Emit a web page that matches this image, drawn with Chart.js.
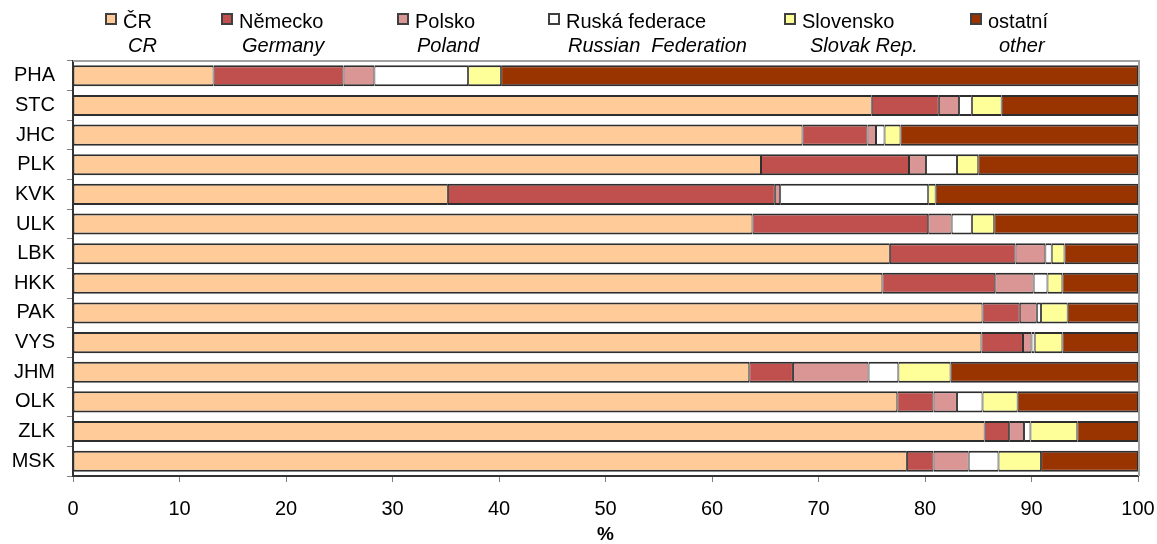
<!DOCTYPE html>
<html>
<head>
<meta charset="utf-8">
<script src="https://cdn.jsdelivr.net/npm/chart.js@4.4.1/dist/chart.umd.min.js"></script>
<style>
    html, body { margin: 0; padding: 0; background: #ffffff; }
    #wrap { position: relative; width: 1157px; height: 544px; }
</style>
</head>
<body>
<div id="wrap"><canvas id="regionChart" width="1157" height="544"></canvas></div>
<script>
// Regions (top to bottom)
const regions = ['PHA', 'STC', 'JHC', 'PLK', 'KVK', 'ULK', 'LBK', 'HKK', 'PAK', 'VYS', 'JHM', 'OLK', 'ZLK', 'MSK'];

// Series names, Czech and English
const seriesCz = ['ČR', 'Německo', 'Polsko', 'Ruská federace', 'Slovensko', 'ostatní'];
const seriesEn = ['CR', 'Germany', 'Poland', 'Russian  Federation', 'Slovak Rep.', 'other'];

// Shares in % per region
const cr      = [13.2, 75.0, 68.5, 64.6, 35.2, 63.8, 76.7, 76.0, 85.4, 85.3, 63.5, 77.4, 85.6, 78.3];
const germany = [12.2, 6.3, 6.1, 13.9, 30.7, 16.5, 11.8, 10.6, 3.5, 3.9, 4.1, 3.4, 2.3, 2.5];
const poland  = [2.9, 1.9, 0.8, 1.6, 0.5, 2.2, 2.8, 3.6, 1.6, 0.8, 7.1, 2.2, 1.4, 3.3];
const russia  = [8.8, 1.2, 0.8, 2.9, 13.9, 1.9, 0.6, 1.3, 0.4, 0.3, 2.8, 2.4, 0.6, 2.8];
const slovak  = [3.1, 2.8, 1.5, 2.0, 0.7, 2.1, 1.2, 1.4, 2.5, 2.6, 4.9, 3.3, 4.4, 4.0];
const other   = [59.8, 12.8, 22.3, 15.0, 19.0, 13.5, 6.9, 7.1, 6.6, 7.1, 17.6, 11.3, 5.7, 9.1];

// X axis
const xMin = 0;
const xMax = 100;
const xStep = 10;
const xTitle = '%';

const seriesColors = ['#FFCC99', '#C0504D', '#D99694', '#FFFFFF', '#FFFF99', '#993300'];
const fontFamily = '"Liberation Sans", Arial, sans-serif';

// Two-line legend drawn on the canvas (Czech line + italic English line)
const legendPlugin = {
    id: 'twoLineLegend',
    afterDraw(chart) {
        const ctx = chart.ctx;
        const boxX = [105, 221, 397, 548, 784, 970];
        const enX = [128, 242, 417, 568, 810, 999];
        ctx.save();
        ctx.textBaseline = 'alphabetic';
        ctx.textAlign = 'left';
        seriesCz.forEach((name, i) => {
            // legend box
            ctx.fillStyle = '#404040';
            ctx.fillRect(boxX[i], 13, 12, 12);
            ctx.fillStyle = seriesColors[i];
            ctx.fillRect(boxX[i] + 2, 15, 8, 8);

            ctx.fillStyle = '#000000';
            ctx.font = '20px ' + fontFamily;
            ctx.fillText(name, boxX[i] + 18, 28);
            ctx.font = 'italic 20px ' + fontFamily;
            ctx.fillText(seriesEn[i], enX[i], 52);
        });
        ctx.restore();
    }
};

// Light grey frame on top and right of the plot area
const framePlugin = {
    id: 'plotFrame',
    beforeDatasetsDraw(chart) {
        const { ctx, chartArea } = chart;
        ctx.save();
        ctx.strokeStyle = '#A0A0A0';
        ctx.lineWidth = 2;
        ctx.beginPath();
        ctx.moveTo(chartArea.left, chartArea.top);
        ctx.lineTo(chartArea.right + 1, chartArea.top);
        ctx.lineTo(chartArea.right + 1, chartArea.bottom);
        ctx.stroke();
        ctx.restore();
    }
};

function buildDatasets() {
    const values = [cr, germany, poland, russia, slovak, other];
    return values.map((data, i) => ({
        label: seriesCz[i],
        data: data,
        backgroundColor: seriesColors[i],
        borderColor: '#2E2E2E',
        borderWidth: { top: 2, bottom: 2, left: 1, right: 1 },
        borderSkipped: false,
        barPercentage: 0.71,
        categoryPercentage: 1.0
    }));
}

document.addEventListener('DOMContentLoaded', function() {
    const ctx = document.getElementById('regionChart').getContext('2d');

    new Chart(ctx, {
        type: 'bar',
        data: {
            labels: regions,
            datasets: buildDatasets()
        },
        options: {
            indexAxis: 'y',
            responsive: false,
            animation: false,
            layout: {
                padding: { top: 61, right: 19, bottom: 0, left: 0 }
            },
            scales: {
                x: {
                    stacked: true,
                    min: xMin,
                    max: xMax,
                    afterFit: (scale) => {
                        scale.height = 68;
                        // keep plot edges fixed, labels may overhang
                        scale.paddingLeft = 0;
                        scale.paddingRight = 0;
                    },
                    border: { display: true, color: '#333333', width: 2 },
                    grid: {
                        drawOnChartArea: false,
                        drawTicks: true,
                        tickLength: 6,
                        color: '#808080'
                    },
                    ticks: {
                        stepSize: xStep,
                        padding: 15,
                        color: '#000000',
                        maxRotation: 0,
                        font: { family: fontFamily, size: 20 }
                    },
                    title: {
                        display: true,
                        text: xTitle,
                        color: '#000000',
                        padding: { top: 0, bottom: 0 },
                        font: { family: fontFamily, size: 19, weight: 'bold', lineHeight: 1 }
                    }
                },
                y: {
                    stacked: true,
                    afterFit: (scale) => { scale.width = 73; },
                    border: { display: true, color: '#333333', width: 2 },
                    grid: {
                        drawOnChartArea: false,
                        drawTicks: true,
                        tickLength: 6,
                        color: '#808080'
                    },
                    ticks: {
                        padding: 12,
                        color: '#000000',
                        font: { family: fontFamily, size: 20 }
                    }
                }
            },
            plugins: {
                legend: { display: false },
                tooltip: { enabled: false }
            }
        },
        plugins: [framePlugin, legendPlugin]
    });
});
</script>
</body>
</html>
